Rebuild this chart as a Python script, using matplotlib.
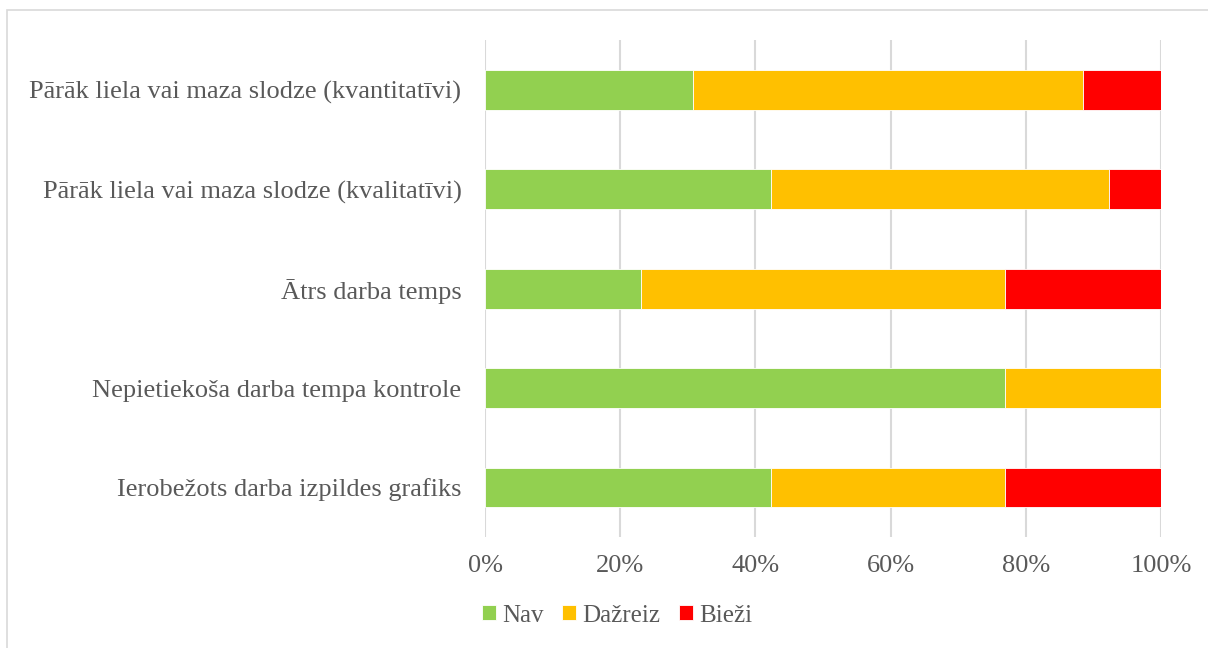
import numpy as np
import matplotlib.pyplot as plt
from matplotlib.patches import Rectangle

# Survey answers, share of respondents (n = 26)
categories = ['Pārāk liela vai maza slodze (kvantitatīvi)',
              'Pārāk liela vai maza slodze (kvalitatīvi)',
              'Ātrs darba temps',
              'Nepietiekoša darba tempa kontrole',
              'Ierobežots darba izpildes grafiks']
nav = [30.8, 42.3, 23.1, 76.9, 42.3]
dazreiz = [57.7, 50.0, 53.8, 23.1, 34.6]
biezi = [11.5, 7.7, 23.1, 0.0, 23.1]
series_names = ['Nav', 'Dažreiz', 'Bieži']
colors = ['#92D050', '#FFC000', '#FF0000']
xticks = [0, 20, 40, 60, 80, 100]

plt.rcParams['font.family'] = ['Liberation Serif', 'DejaVu Serif']
text_color = '#595959'
fs = 19

fig = plt.figure(figsize=(12.08, 6.48), dpi=100)
ax = fig.add_axes([0.4015, 0.171, 0.5595, 0.767])

y = np.arange(len(categories))[::-1]
left = np.zeros(len(categories))
for vals, name, c in zip([nav, dazreiz, biezi], series_names, colors):
    ax.barh(y, vals, left=left, height=0.4, color=c, label=name,
            edgecolor='white', linewidth=0.6, zorder=3)
    left += np.array(vals)

ax.set_xlim(0, 100)
ax.set_ylim(-0.5, 4.5)
ax.set_yticks(y)
ax.set_yticklabels(categories, fontsize=fs, color=text_color)
ax.set_xticks(xticks)
ax.set_xticklabels([f'{t}%' for t in xticks], fontsize=fs, color=text_color)
ax.tick_params(length=0)
ax.tick_params(axis='x', pad=13)
ax.tick_params(axis='y', pad=17)
ax.grid(axis='x', color='#d9d9d9', linewidth=1.5, zorder=0)
for s in ax.spines.values():
    s.set_visible(False)

fig.legend(loc='center', bbox_to_anchor=(0.511, 0.05), ncol=3, frameon=False,
           fontsize=18, handlelength=0.55, handleheight=0.55, handletextpad=0.25,
           columnspacing=0.75, labelcolor=text_color)

fig.patches.append(Rectangle((0.006, -0.01), 1.0, 0.995, transform=fig.transFigure,
                             fill=False, edgecolor='#d9d9d9', linewidth=1.2))

fig.savefig('out.png', dpi=100)
